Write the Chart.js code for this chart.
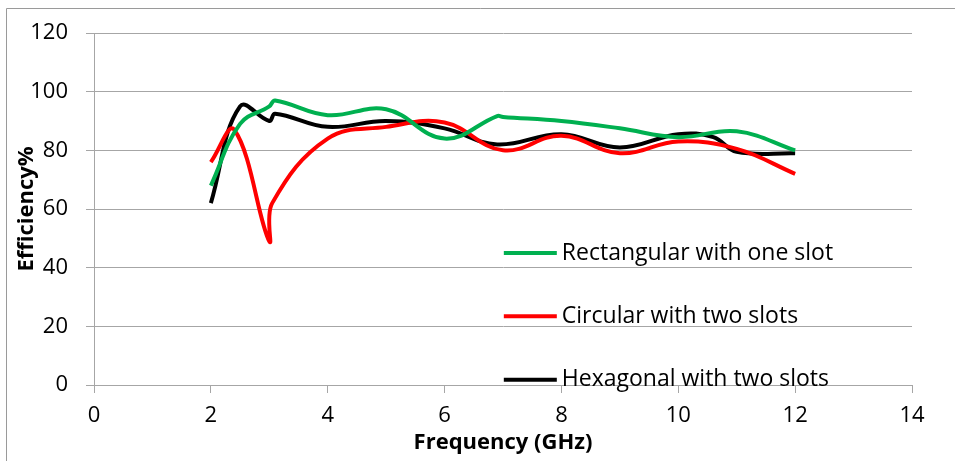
<!DOCTYPE html>
<html>
<head>
<meta charset="utf-8">
<script src="https://cdn.jsdelivr.net/npm/chart.js@4/dist/chart.umd.min.js"></script>
<style>
  html, body { margin: 0; padding: 0; background: #fff; }
  #wrap { width: 955px; height: 461px; position: relative; }
</style>
</head>
<body>
<div id="wrap"><canvas id="chart" width="955" height="461"></canvas></div>
<script>
// series (x = frequency GHz, y = efficiency %)
const rectX = [2, 2.5, 3, 3.1, 4, 5, 6, 6.9, 7, 8, 9, 10, 11, 12];
const rectY = [68, 89, 95, 97, 92, 94, 84, 91.7, 91.4, 90, 87.5, 84.5, 86.5, 80];

const circX = [2, 2.4, 3, 3.05, 4, 5, 6, 7, 8, 9, 10, 11, 12];
const circY = [76, 87, 49, 62, 84, 88, 89.5, 80, 85, 79, 83, 80.5, 72];

const hexX = [2, 2.5, 3, 3.1, 4, 5, 6, 6.9, 8, 9, 10, 10.6, 11, 12];
const hexY = [62, 95, 90, 92.5, 88, 90, 87.5, 82, 85.5, 81, 85.5, 84.5, 79.5, 79];

const seriesNames = ["Rectangular with one slot", "Circular with two slots", "Hexagonal with two slots"];
const seriesColors = ["#00b050", "#ff0000", "#000000"];

const xTicks = [0, 2, 4, 6, 8, 10, 12, 14];
const yTicks = [0, 20, 40, 60, 80, 100, 120];

const FONT = "'Open Sans', Lato, sans-serif";
const GRID = "#a6a6a6";

function pts(xs, ys) { return xs.map((x, i) => ({ x, y: ys[i] })); }

const frame = {
  id: "frame",
  beforeDraw(chart) {
    const c = chart.ctx;
    c.save();
    c.strokeStyle = "#9a9a9a";
    c.lineWidth = 1;
    c.beginPath();
    c.moveTo(6.5, chart.height);
    c.lineTo(6.5, 8.5);
    c.lineTo(chart.width, 8.5);
    c.stroke();
    c.restore();
  }
};

// legend sits inside the plot, lower right
const inlineLegend = {
  id: "inlineLegend",
  afterDatasetsDraw(chart) {
    const c = chart.ctx;
    const a = chart.chartArea;
    const x0 = a.left + (a.right - a.left) * 0.501;
    const rows = [45, 23.4, 1.8].map(v => chart.scales.y.getPixelForValue(v));
    c.save();
    c.font = "23px " + FONT;
    c.textBaseline = "middle";
    c.textAlign = "left";
    chart.data.datasets.forEach((ds, i) => {
      const y = rows[i];
      c.strokeStyle = ds.borderColor;
      c.lineWidth = 4;
      c.beginPath();
      c.moveTo(x0, y);
      c.lineTo(x0 + 53, y);
      c.stroke();
      c.fillStyle = "#000";
      c.fillText(ds.label, x0 + 58, y);
    });
    c.restore();
  }
};

const datasets = [pts(rectX, rectY), pts(circX, circY), pts(hexX, hexY)].map((d, i) => ({
  label: seriesNames[i],
  data: d,
  borderColor: seriesColors[i],
  backgroundColor: seriesColors[i],
  borderWidth: 4,
  pointRadius: 0,
  showLine: true,
  tension: 0.4,
  fill: false
}));

new Chart(document.getElementById("chart"), {
  type: "scatter",
  data: { datasets },
  plugins: [frame, inlineLegend],
  options: {
    responsive: false,
    animation: false,
    layout: { padding: { left: 0, top: 33, right: 43, bottom: 0 } },
    plugins: { legend: { display: false }, tooltip: { enabled: false } },
    scales: {
      x: {
        type: "linear",
        min: 0, max: 14,
        afterBuildTicks: s => { s.ticks = xTicks.map(v => ({ value: v })); },
        afterFit: s => { s.height = 76; },
        grid: { drawOnChartArea: false, drawTicks: true, tickLength: 8, color: GRID },
        border: { display: true, color: GRID, width: 1 },
        ticks: { font: { family: FONT, size: 22 }, color: "#000", padding: 10, maxRotation: 0 },
        title: {
          display: true, text: "Frequency (GHz)", color: "#000",
          font: { family: FONT, size: 22, weight: "bold" },
          padding: { top: 0, bottom: 5 }
        }
      },
      y: {
        min: 0, max: 120,
        afterBuildTicks: s => { s.ticks = yTicks.map(v => ({ value: v })); },
        afterFit: s => { s.width = 94; },
        grid: { drawTicks: true, tickLength: 8, color: GRID },
        border: { display: true, color: GRID, width: 1 },
        ticks: { font: { family: FONT, size: 22 }, color: "#000", padding: 18 },
        title: {
          display: true, text: "Efficiency%", color: "#000",
          font: { family: FONT, size: 22, weight: "bold" },
          padding: { top: 14, bottom: 0 }
        }
      }
    }
  }
});
</script>
</body>
</html>
